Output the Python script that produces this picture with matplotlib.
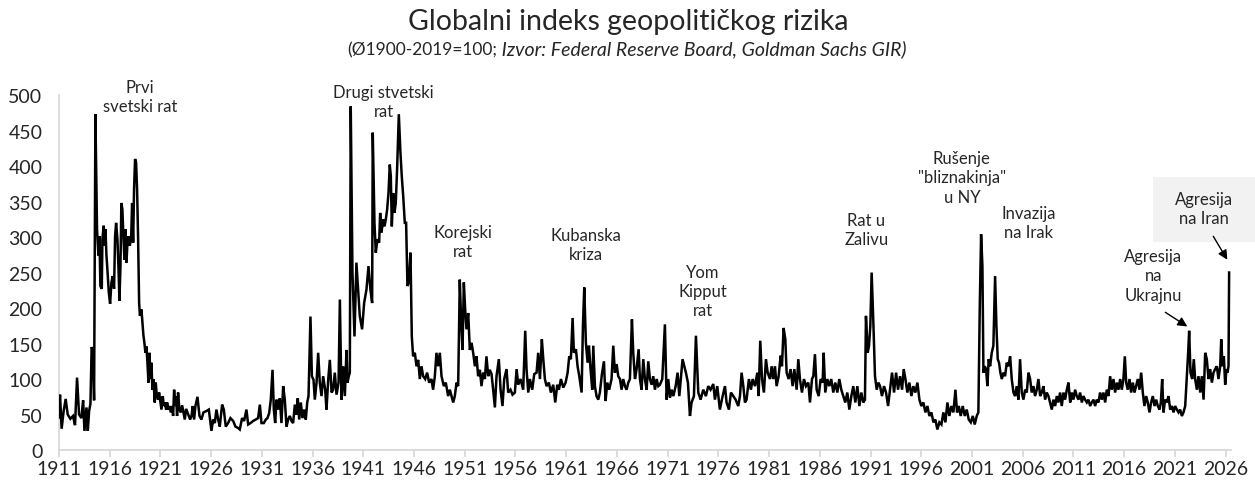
import matplotlib.pyplot as plt
from matplotlib.patches import Rectangle

plt.rcParams['font.family'] = ['Lato', 'DejaVu Sans']

# === podaci ocitani sa grafika (decimalna godina, indeks) ===
# pre Prvog svetskog rata
years_a = [1911.00, 1911.10, 1911.26, 1911.46, 1911.66, 1911.86, 1912.12, 1912.38,
           1912.58, 1912.78, 1912.98, 1913.21, 1913.38, 1913.51, 1913.71, 1913.84,
           1913.97, 1914.10, 1914.22, 1914.34, 1914.46]
gpr_a = [46, 78, 30, 55, 72, 50, 44, 48, 35, 102, 50, 45, 70, 27, 60, 27, 55, 65, 145, 140, 70]

# Prvi svetski rat
years_b = [1914.59, 1914.75, 1914.89, 1914.99, 1915.08, 1915.22, 1915.28, 1915.41, 1915.51,
           1915.58, 1915.68, 1915.77, 1915.91, 1916.04, 1916.17, 1916.30, 1916.43, 1916.53,
           1916.63, 1916.76, 1916.86, 1916.96, 1917.06, 1917.15, 1917.25, 1917.35, 1917.45,
           1917.55, 1917.65, 1917.75, 1917.85, 1917.98, 1918.11, 1918.21, 1918.31, 1918.40,
           1918.50, 1918.60, 1918.70, 1918.80, 1918.90, 1918.98, 1919.13, 1919.23, 1919.32,
           1919.42, 1919.52, 1919.62, 1919.72, 1919.82, 1919.92, 1920.01, 1920.11, 1920.21,
           1920.31, 1920.44, 1920.54, 1920.64, 1920.77, 1920.87]
gpr_b = [473, 311, 274, 301, 231, 227, 297, 316, 288, 311, 274, 255, 222, 206, 236, 245, 227,
         301, 320, 297, 259, 210, 259, 348, 339, 301, 268, 311, 264, 292, 301, 288, 297, 348,
         292, 367, 410, 405, 367, 297, 207, 189, 198, 180, 162, 151, 137, 146, 123, 95, 137,
         100, 123, 85, 100, 67, 95, 76, 71, 81]

# medjuratni period
years_c = [1921.00, 1921.10, 1921.23, 1921.33, 1921.43, 1921.56, 1921.66, 1921.79, 1921.89,
           1922.02, 1922.15, 1922.25, 1922.35, 1922.45, 1922.55, 1922.64, 1922.74, 1922.87,
           1923.01, 1923.14, 1923.27, 1923.40, 1923.53, 1923.66, 1923.80, 1923.93, 1924.06,
           1924.19, 1924.32, 1924.45, 1924.65, 1924.85, 1925.04, 1925.24, 1925.54, 1925.77,
           1926.03, 1926.19, 1926.36, 1926.52, 1926.69, 1926.85, 1927.08, 1927.25, 1927.44,
           1927.67, 1927.90, 1928.17, 1928.40, 1928.66, 1928.82, 1929.05, 1929.25, 1929.48,
           1929.65, 1929.88, 1930.14, 1930.40, 1930.63, 1930.80, 1930.96, 1931.19, 1931.39,
           1931.55, 1931.72, 1931.88, 1932.05, 1932.18, 1932.31, 1932.44, 1932.61, 1932.77,
           1932.93, 1933.10, 1933.26, 1933.43, 1933.59, 1933.76, 1933.92, 1934.08, 1934.25,
           1934.41, 1934.54, 1934.68, 1934.84, 1935.00, 1935.17, 1935.33, 1935.47, 1935.60,
           1935.79, 1935.93, 1936.09, 1936.22, 1936.39, 1936.55, 1936.71, 1936.88, 1937.04,
           1937.24, 1937.37, 1937.54, 1937.70, 1937.87, 1938.03, 1938.19, 1938.36, 1938.56,
           1938.69, 1938.85, 1939.02, 1939.18, 1939.34, 1939.44, 1939.57]
gpr_c = [67, 57, 76, 62, 67, 57, 67, 57, 62, 53, 62, 48, 85, 62, 76, 48, 81, 57, 53, 63, 53,
         43, 58, 53, 48, 43, 48, 62, 43, 62, 75, 48, 43, 53, 55, 57, 27, 43, 38, 57, 43, 33,
         64, 57, 33, 38, 45, 41, 33, 31, 29, 45, 41, 57, 36, 38, 41, 43, 45, 64, 38, 38, 43,
         45, 52, 71, 113, 57, 38, 71, 57, 73, 38, 90, 71, 33, 43, 48, 41, 38, 64, 50, 73, 43,
         67, 45, 57, 43, 67, 76, 188, 104, 99, 71, 95, 137, 95, 76, 104, 85, 57, 99, 127, 81,
         85, 109, 78, 95, 212, 71, 118, 76, 141, 95, 104]

# Drugi svetski rat i Korejski rat
years_d = [1939.67, 1939.76, 1939.93, 1940.13, 1940.32, 1940.49, 1940.65, 1940.88, 1941.08,
           1941.31, 1941.51, 1941.70, 1941.87, 1941.93, 1942.10, 1942.23, 1942.39, 1942.56,
           1942.66, 1942.79, 1942.95, 1943.09, 1943.22, 1943.35, 1943.48, 1943.61, 1943.71,
           1943.81, 1943.94, 1944.07, 1944.20, 1944.33, 1944.50, 1944.66, 1944.79, 1944.93,
           1945.09, 1945.22, 1945.35, 1945.48, 1945.65, 1945.78, 1945.91, 1946.08, 1946.24,
           1946.41, 1946.57, 1946.73, 1946.90, 1947.10, 1947.29, 1947.49, 1947.72, 1947.88,
           1948.05, 1948.21, 1948.38, 1948.54, 1948.71, 1948.94, 1949.13, 1949.36, 1949.53,
           1949.69, 1949.86, 1950.02, 1950.19, 1950.35, 1950.51, 1950.65, 1950.78, 1950.91,
           1951.04, 1951.17, 1951.34, 1951.50, 1951.67, 1951.83, 1952.00, 1952.16, 1952.32,
           1952.49, 1952.65, 1952.82, 1952.98, 1953.14, 1953.31, 1953.47]
gpr_d = [109, 484, 250, 160, 264, 226, 189, 170, 207, 226, 259, 226, 207, 447, 320, 278, 297,
         292, 334, 306, 325, 315, 325, 339, 362, 402, 386, 315, 362, 334, 348, 395, 473, 419,
         386, 358, 320, 320, 231, 236, 278, 160, 132, 137, 118, 127, 100, 118, 104, 100, 109,
         95, 100, 85, 104, 137, 118, 137, 104, 90, 95, 76, 85, 76, 67, 76, 95, 90, 240, 179,
         141, 236, 198, 170, 193, 141, 151, 137, 118, 132, 104, 113, 90, 109, 100, 132, 104, 113]

# hladni rat do 1972.
years_e = [1953.64, 1953.80, 1953.97, 1954.13, 1954.36, 1954.53, 1954.72, 1954.89, 1955.12,
           1955.28, 1955.51, 1955.71, 1955.94, 1956.11, 1956.27, 1956.50, 1956.76, 1956.96,
           1957.09, 1957.26, 1957.42, 1957.65, 1957.85, 1958.08, 1958.24, 1958.41, 1958.60,
           1958.74, 1958.90, 1959.06, 1959.29, 1959.49, 1959.72, 1959.92, 1960.12, 1960.28,
           1960.48, 1960.71, 1960.94, 1961.14, 1961.30, 1961.46, 1961.63, 1961.76, 1961.96,
           1962.12, 1962.29, 1962.52, 1962.65, 1962.78, 1962.94, 1963.11, 1963.24, 1963.40,
           1963.57, 1963.67, 1963.83, 1963.99, 1964.16, 1964.32, 1964.52, 1964.72, 1964.88,
           1965.05, 1965.24, 1965.47, 1965.64, 1965.80, 1965.97, 1966.13, 1966.30, 1966.46,
           1966.62, 1966.79, 1966.95, 1967.12, 1967.28, 1967.48, 1967.61, 1967.78, 1967.94,
           1968.14, 1968.27, 1968.43, 1968.60, 1968.76, 1968.93, 1969.09, 1969.25, 1969.42,
           1969.58, 1969.75, 1969.91, 1970.08, 1970.24, 1970.47, 1970.73, 1970.90, 1971.06,
           1971.23, 1971.39, 1971.56, 1971.79, 1971.98, 1972.15]
gpr_e = [107, 85, 60, 104, 128, 85, 62, 100, 114, 81, 85, 78, 81, 114, 92, 100, 85, 168, 114,
         81, 100, 85, 107, 109, 137, 100, 156, 128, 100, 90, 95, 81, 92, 67, 92, 85, 100, 88,
         95, 109, 132, 128, 186, 137, 142, 118, 104, 81, 175, 229, 151, 123, 147, 114, 85, 147,
         90, 76, 71, 81, 107, 125, 69, 95, 85, 100, 147, 109, 121, 104, 100, 85, 100, 90, 85,
         95, 100, 184, 137, 100, 114, 142, 100, 85, 128, 100, 85, 125, 100, 92, 104, 85, 100,
         90, 92, 100, 177, 71, 100, 74, 85, 76, 90, 109, 76]

# 1972. - 1991.
years_f = [1972.47, 1972.80, 1973.00, 1973.20, 1973.36, 1973.59, 1973.79, 1974.02, 1974.25,
           1974.51, 1974.77, 1975.00, 1975.23, 1975.50, 1975.66, 1975.89, 1976.15, 1976.42,
           1976.65, 1976.81, 1977.04, 1977.24, 1977.47, 1977.70, 1977.96, 1978.13, 1978.29,
           1978.46, 1978.62, 1978.78, 1979.01, 1979.21, 1979.38, 1979.61, 1979.84, 1979.97,
           1980.13, 1980.30, 1980.49, 1980.69, 1980.86, 1981.09, 1981.25, 1981.41, 1981.58,
           1981.74, 1981.94, 1982.14, 1982.27, 1982.43, 1982.60, 1982.73, 1982.93, 1983.12,
           1983.32, 1983.49, 1983.72, 1983.88, 1984.04, 1984.24, 1984.44, 1984.64, 1984.87,
           1985.03, 1985.23, 1985.36, 1985.52, 1985.69, 1985.89, 1986.08, 1986.28, 1986.38,
           1986.54, 1986.74, 1986.94, 1987.13, 1987.33, 1987.53, 1987.73, 1987.92, 1988.12,
           1988.32, 1988.51, 1988.71, 1988.91, 1989.11, 1989.30, 1989.50, 1989.70, 1989.90,
           1990.09, 1990.29, 1990.45, 1990.55, 1990.72, 1990.85, 1990.98, 1991.11, 1991.28]
gpr_f = [128, 109, 95, 48, 67, 76, 161, 81, 71, 85, 76, 90, 85, 93, 71, 90, 57, 76, 90, 67,
         57, 81, 76, 71, 62, 76, 109, 90, 67, 71, 100, 85, 100, 90, 109, 76, 154, 100, 81, 128,
         109, 100, 118, 100, 118, 90, 104, 133, 118, 172, 156, 109, 100, 114, 90, 114, 85, 128,
         100, 81, 100, 90, 95, 67, 100, 104, 135, 85, 76, 100, 95, 137, 81, 100, 90, 100, 81,
         95, 81, 100, 85, 76, 67, 81, 57, 76, 90, 67, 90, 62, 81, 67, 71, 189, 137, 147, 175,
         250, 179]

# 1991. - 2026.
years_g = [1991.44, 1991.61, 1991.77, 1991.94, 1992.13, 1992.33, 1992.53, 1992.73, 1992.92,
           1993.12, 1993.32, 1993.52, 1993.71, 1993.91, 1994.11, 1994.27, 1994.44, 1994.63,
           1994.83, 1995.03, 1995.22, 1995.42, 1995.62, 1995.82, 1996.01, 1996.21, 1996.41,
           1996.61, 1996.80, 1997.00, 1997.20, 1997.39, 1997.59, 1997.79, 1997.99, 1998.18,
           1998.38, 1998.58, 1998.77, 1998.97, 1999.17, 1999.37, 1999.53, 1999.70, 1999.89,
           2000.09, 2000.29, 2000.48, 2000.68, 2000.88, 2001.08, 2001.27, 2001.47, 2001.63,
           2001.77, 2001.90, 2002.03, 2002.13, 2002.26, 2002.39, 2002.52, 2002.65, 2002.79,
           2002.95, 2003.11, 2003.28, 2003.41, 2003.54, 2003.67, 2003.80, 2003.94, 2004.10,
           2004.26, 2004.43, 2004.59, 2004.76, 2004.92, 2005.09, 2005.25, 2005.41, 2005.58,
           2005.74, 2005.91, 2006.07, 2006.24, 2006.40, 2006.57, 2006.73, 2006.89, 2007.06,
           2007.22, 2007.39, 2007.55, 2007.72, 2007.88, 2008.04, 2008.21, 2008.37, 2008.54,
           2008.70, 2008.87, 2009.03, 2009.20, 2009.36, 2009.52, 2009.69, 2009.85, 2010.02,
           2010.18, 2010.35, 2010.51, 2010.68, 2010.84, 2011.00, 2011.17, 2011.33, 2011.50,
           2011.66, 2011.83, 2011.99, 2012.15, 2012.32, 2012.48, 2012.65, 2012.81, 2012.98,
           2013.14, 2013.30, 2013.47, 2013.63, 2013.80, 2013.96, 2014.13, 2014.29, 2014.46,
           2014.62, 2014.78, 2014.95, 2015.11, 2015.28, 2015.44, 2015.61, 2015.77, 2015.93,
           2016.07, 2016.20, 2016.36, 2016.53, 2016.69, 2016.86, 2017.02, 2017.18, 2017.35,
           2017.51, 2017.68, 2017.84, 2018.00, 2018.17, 2018.33, 2018.50, 2018.66, 2018.83,
           2018.99, 2019.16, 2019.32, 2019.49, 2019.62, 2019.75, 2019.88, 2020.04, 2020.21,
           2020.37, 2020.54, 2020.70, 2020.87, 2021.03, 2021.20, 2021.36, 2021.52, 2021.69,
           2021.85, 2022.02, 2022.18, 2022.31, 2022.41, 2022.54, 2022.71, 2022.87, 2023.00,
           2023.17, 2023.33, 2023.50, 2023.66, 2023.83, 2023.99, 2024.15, 2024.32, 2024.48,
           2024.65, 2024.81, 2024.97, 2025.14, 2025.30, 2025.47, 2025.57, 2025.70, 2025.83,
           2025.96, 2026.09, 2026.19, 2026.29, 2026.35]
gpr_g = [104, 85, 95, 90, 76, 90, 81, 62, 85, 109, 81, 109, 85, 104, 85, 114, 100, 81, 95, 76,
         90, 81, 95, 71, 62, 67, 53, 62, 48, 53, 39, 43, 29, 39, 36, 53, 39, 67, 48, 62, 53, 85,
         53, 62, 48, 62, 48, 57, 43, 39, 48, 36, 48, 53, 203, 304, 259, 109, 118, 114, 90, 128,
         118, 137, 147, 245, 175, 128, 123, 109, 100, 109, 104, 123, 118, 132, 100, 81, 76, 90,
         71, 128, 81, 71, 85, 81, 109, 100, 81, 90, 76, 85, 100, 76, 81, 90, 71, 81, 76, 67, 57,
         71, 62, 76, 67, 81, 62, 81, 71, 85, 95, 67, 81, 71, 85, 76, 71, 81, 67, 76, 71, 67, 71,
         62, 67, 71, 62, 71, 67, 81, 71, 81, 67, 85, 76, 104, 85, 100, 81, 95, 85, 100, 85, 100,
         132, 95, 85, 100, 81, 95, 81, 90, 100, 85, 109, 81, 62, 76, 67, 53, 67, 76, 62, 71, 62,
         57, 67, 100, 53, 71, 67, 76, 57, 62, 53, 62, 57, 53, 57, 48, 53, 62, 104, 137, 168, 109,
         100, 128, 100, 85, 104, 81, 104, 71, 137, 128, 100, 114, 95, 109, 114, 118, 100, 118,
         156, 118, 132, 92, 114, 109, 118, 250]

years = years_a + years_b + years_c + years_d + years_e + years_f + years_g
gpr = gpr_a + gpr_b + gpr_c + gpr_d + gpr_e + gpr_f + gpr_g

tick_years = list(range(1911, 2027, 5))
y_ticks = list(range(0, 501, 50))

# dogadjaji: tekst, (godina, vrednost) za centar teksta
events = [
    ("Prvi\nsvetski rat", 1918.96, 498),
    ("Drugi stvetski\nrat", 1943.0, 491),
    ("Korejski\nrat", 1950.8, 294),
    ("Kubanska\nkriza", 1962.97, 290),
    ("Yom\nKipput\nrat", 1974.5, 224),
    ("Rat u\nZalivu", 1990.6, 311),
    ("Rušenje\n\"bliznakinja\"\nu NY", 2000.0, 384),
    ("Invazija\nna Irak", 2006.6, 320),
    ("Agresija\nna\nUkrajnu", 2018.87, 246),
]

fig = plt.figure(figsize=(12.55, 4.85), dpi=100)
ax = fig.add_axes([0.047, 0.070, 0.934, 0.732])

ax.plot(years, gpr, color='black', linewidth=1.8, solid_joinstyle='miter', zorder=3)

ax.set_xlim(1911.0, 2026.55)
ax.set_ylim(0, 500)
ax.set_xticks(tick_years)
ax.set_xticklabels([str(y) for y in tick_years])
ax.set_yticks(y_ticks)

for s in ['top', 'right']:
    ax.spines[s].set_visible(False)
for s in ['left', 'bottom']:
    ax.spines[s].set_color('#d9d9d9')
    ax.spines[s].set_linewidth(1.3)
ax.tick_params(axis='x', direction='out', length=5, width=1.3, color='#d9d9d9',
               labelsize=14, labelcolor='#262626', pad=2)
ax.tick_params(axis='y', length=0, labelsize=14, labelcolor='#262626', pad=12)

for label, x, y in events:
    ax.text(x, y, label, ha='center', va='center', multialignment='center',
            fontsize=12, color='#262626', linespacing=1.25, clip_on=False, zorder=4)

# siva kutija za Iran
ax.add_patch(Rectangle((1153 / 1255, 1 - 243 / 485), 102 / 1255, 65 / 485,
                       transform=fig.transFigure, facecolor='#f2f2f2', edgecolor='none',
                       clip_on=False, zorder=1))
ax.text(2023.9, 340, "Agresija\nna Iran", ha='center', va='center', multialignment='center',
        fontsize=12, color='#262626', linespacing=1.25, clip_on=False, zorder=4)

arrow = dict(arrowstyle='-|>', color='black', lw=1.0, mutation_scale=14, shrinkA=0, shrinkB=0)
ax.annotate("", xy=(2022.23, 174), xytext=(2020.06, 194), arrowprops=arrow, zorder=5)
ax.annotate("", xy=(2026.17, 268), xytext=(2024.79, 301), arrowprops=arrow, zorder=5)

fig.text(628 / 1255, 1 - 22 / 485, "Globalni indeks geopolitičkog rizika",
         ha='center', va='center', fontsize=20.5, color='#262626')
sub1 = fig.text(347 / 1255, 1 - 50 / 485, "(Ø1900-2019=100;", ha='left', va='center',
                fontsize=12.5, color='#262626')
ax.annotate(" Izvor: Federal Reserve Board, Goldman Sachs GIR)", xy=(1, 0), xycoords=sub1,
            ha='left', va='bottom', fontsize=14, style='italic', color='#262626',
            annotation_clip=False)

fig.savefig('out.png', dpi=100)
